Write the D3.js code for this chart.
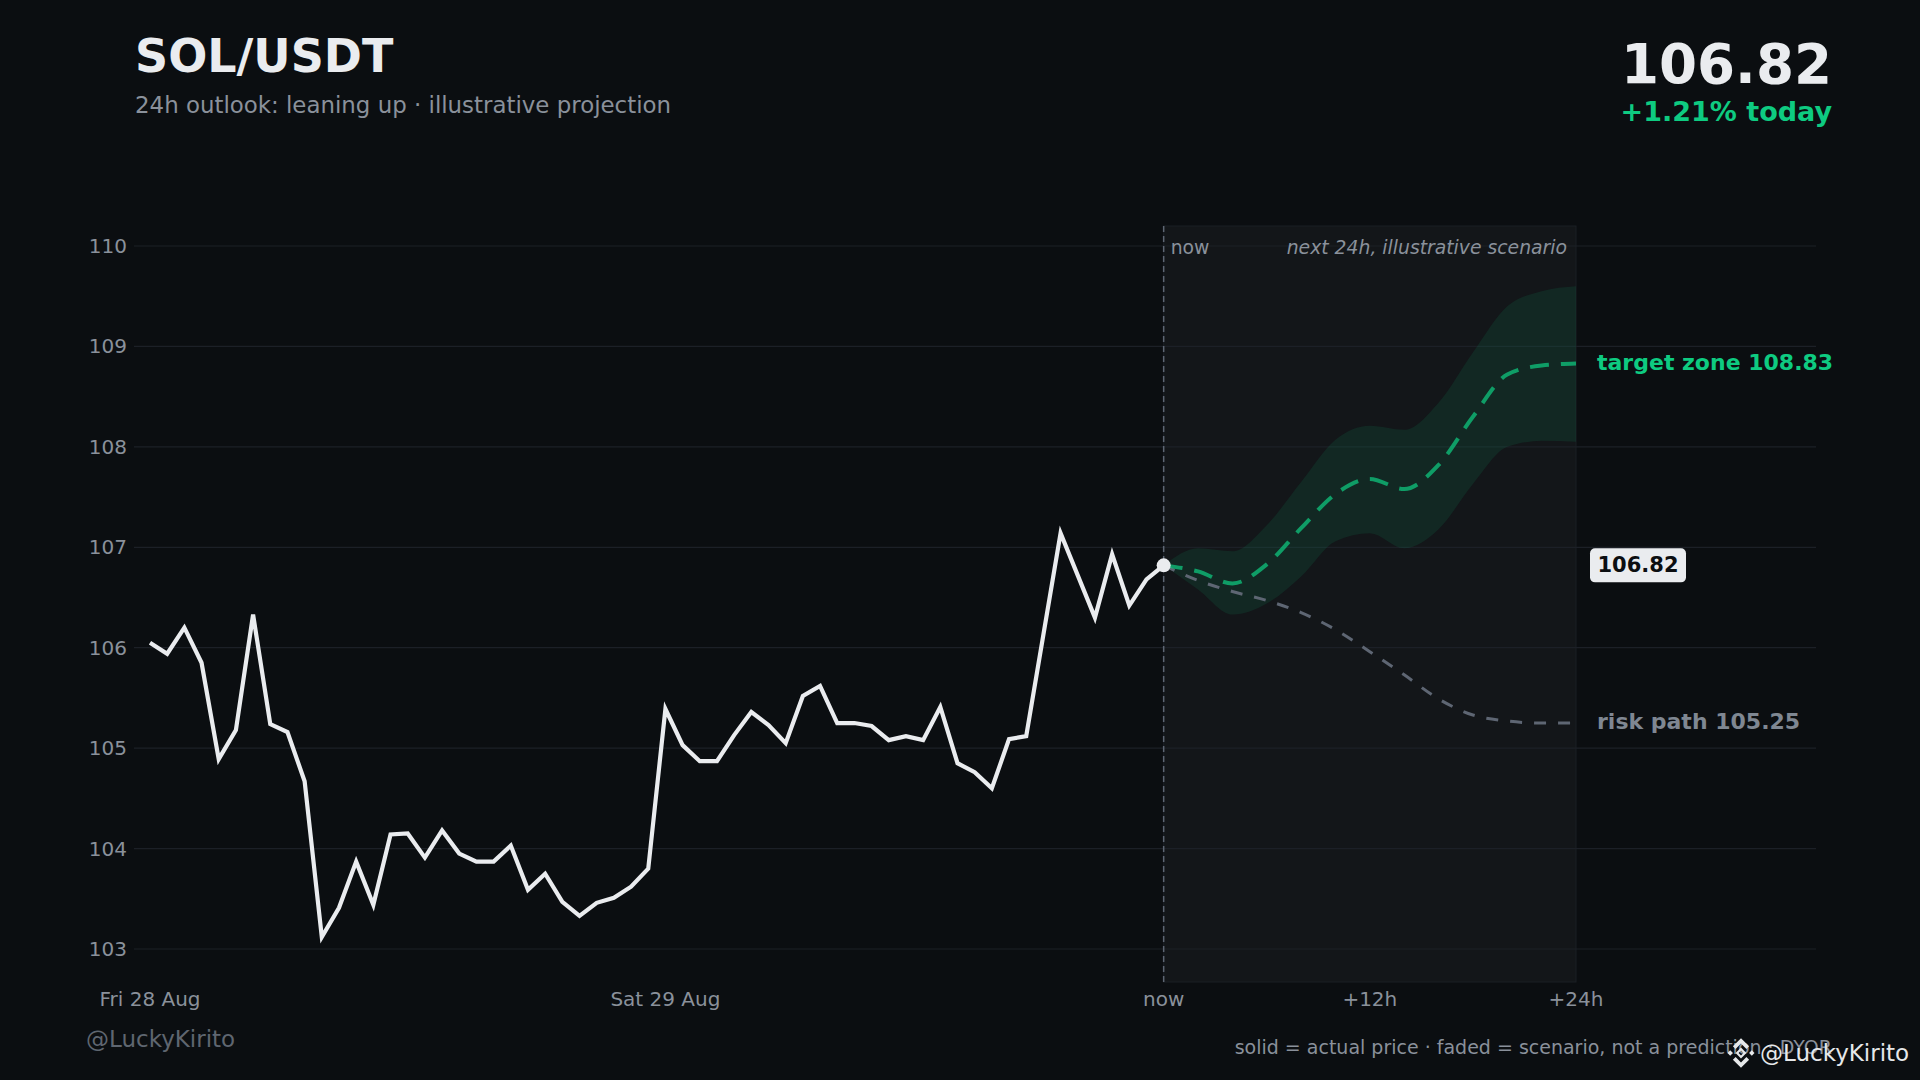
<!DOCTYPE html>
<html lang="en">
<head>
<meta charset="UTF-8">
<title>SOL/USDT outlook</title>
<script src="https://d3js.org/d3.v7.min.js"></script>
<style>
    html, body { margin: 0; padding: 0; background: #0b0e11; }
    svg { display: block; font-family: "DejaVu Sans", sans-serif; }
    .grid line { stroke: #1c2027; stroke-width: 1.2; }
    .tick-label { fill: #8a919b; font-size: 20px; }
</style>
</head>
<body>
<svg id="chart" width="1920" height="1080"></svg>
<script>
    // history: hourly closes, hour offset relative to "now"
    const histHours = d3.range(-59, 1);
    const histPrice = [
        106.05, 105.94, 106.20, 105.85, 104.89, 105.18, 106.33, 105.24, 105.16, 104.67,
        103.12, 103.41, 103.87, 103.44, 104.14, 104.15, 103.91, 104.18, 103.95, 103.87,
        103.87, 104.03, 103.59, 103.75, 103.47, 103.33, 103.46, 103.51, 103.62, 103.80,
        105.39, 105.03, 104.87, 104.87, 105.13, 105.36, 105.23, 105.05, 105.52, 105.62,
        105.25, 105.25, 105.22, 105.08, 105.12, 105.08, 105.41, 104.85, 104.76, 104.60,
        105.09, 105.12, 106.13, 107.14, 106.72, 106.30, 106.93, 106.42, 106.68, 106.82
    ];

    // scenario for next 24h
    const fcHours  = [0, 2, 4, 6, 8, 10, 12, 14, 16, 18, 20, 22, 24];
    const fcCenter = [106.82, 106.76, 106.64, 106.83, 107.19, 107.53, 107.68, 107.58, 107.82, 108.30, 108.72, 108.81, 108.83];
    const fcUpper  = [106.82, 106.99, 106.96, 107.22, 107.65, 108.07, 108.21, 108.17, 108.44, 108.94, 109.40, 109.55, 109.60];
    const fcLower  = [106.82, 106.58, 106.33, 106.44, 106.71, 107.06, 107.14, 106.99, 107.18, 107.63, 108.00, 108.06, 108.05];
    const riskPath = [106.82, 106.67, 106.56, 106.47, 106.35, 106.18, 105.96, 105.73, 105.49, 105.33, 105.27, 105.25, 105.25];

    const yTicks = [103, 104, 105, 106, 107, 108, 109, 110];
    const xTicks = [-59, -29, 0, 12, 24];
    const xTickLabels = ["Fri 28 Aug", "Sat 29 Aug", "now", "+12h", "+24h"];

    const lastPrice = 106.82;
    const target = 108.83;
    const risk = 105.25;

    const svg = d3.select("#chart");
    const W = 1920, H = 1080;
    const plotTop = 226, plotBottom = 982, gridLeft = 134, gridRight = 1816;

    const x = d3.scaleLinear().domain([-59, 24]).range([150, 1576]);
    const y = d3.scaleLinear().domain([103, 110]).range([949, 246]);

    svg.append("rect").attr("width", W).attr("height", H).attr("fill", "#0b0e11");

    // forecast panel
    svg.append("rect")
        .attr("x", x(0)).attr("y", plotTop)
        .attr("width", x(24) - x(0)).attr("height", plotBottom - plotTop)
        .attr("fill", "#ffffff").attr("fill-opacity", 0.035)
        .attr("stroke", "#1b1f25").attr("stroke-width", 1);

    // grid
    const grid = svg.append("g").attr("class", "grid");
    grid.selectAll("line").data(yTicks).enter().append("line")
        .attr("x1", gridLeft).attr("x2", gridRight)
        .attr("y1", d => y(d)).attr("y2", d => y(d));

    // y labels
    svg.append("g").selectAll("text").data(yTicks).enter().append("text")
        .attr("class", "tick-label")
        .attr("x", 127).attr("y", d => y(d))
        .attr("text-anchor", "end").attr("dominant-baseline", "central")
        .text(d => d);

    // x labels
    svg.append("g").selectAll("text").data(xTicks).enter().append("text")
        .attr("class", "tick-label")
        .attr("x", d => x(d)).attr("y", 1006)
        .attr("text-anchor", "middle")
        .text((d, i) => xTickLabels[i]);

    // now line
    svg.append("line")
        .attr("x1", x(0)).attr("x2", x(0))
        .attr("y1", plotTop).attr("y2", plotBottom)
        .attr("stroke", "#5e6673").attr("stroke-width", 1.5)
        .attr("stroke-dasharray", "6,4");

    svg.append("text")
        .attr("x", x(0) + 7).attr("y", 254)
        .attr("fill", "#8a919b").attr("font-size", 18.8)
        .text("now");
    svg.append("text")
        .attr("x", x(24) - 9).attr("y", 254)
        .attr("text-anchor", "end")
        .attr("fill", "#8a919b").attr("font-size", 18.8).attr("font-style", "italic")
        .text("next 24h, illustrative scenario");

    // band
    const band = d3.area()
        .x((d, i) => x(fcHours[i]))
        .y0((d, i) => y(fcLower[i]))
        .y1((d, i) => y(fcUpper[i]))
        .curve(d3.curveMonotoneX);
    svg.append("path")
        .datum(fcHours)
        .attr("d", band)
        .attr("fill", "#0ecb81").attr("fill-opacity", 0.1);

    const fcLine = d3.line()
        .x((d, i) => x(fcHours[i]))
        .y(d => y(d))
        .curve(d3.curveMonotoneX);

    // risk path
    svg.append("path")
        .datum(riskPath)
        .attr("d", fcLine)
        .attr("fill", "none")
        .attr("stroke", "#5e6673").attr("stroke-width", 3)
        .attr("stroke-dasharray", "12,12");

    // target path
    svg.append("path")
        .datum(fcCenter)
        .attr("d", fcLine)
        .attr("fill", "none")
        .attr("stroke", "#0ecb81").attr("stroke-opacity", 0.72)
        .attr("stroke-width", 4)
        .attr("stroke-dasharray", "19,12");

    // history
    const histLine = d3.line()
        .x((d, i) => x(histHours[i]))
        .y(d => y(d));
    svg.append("path")
        .datum(histPrice)
        .attr("d", histLine)
        .attr("fill", "none")
        .attr("stroke", "#eaecef").attr("stroke-width", 4.2)
        .attr("stroke-linejoin", "miter");

    svg.append("circle")
        .attr("cx", x(0)).attr("cy", y(lastPrice)).attr("r", 7)
        .attr("fill", "#eaecef");

    // right side labels
    svg.append("text")
        .attr("x", 1597).attr("y", y(target) - 1.5)
        .attr("dominant-baseline", "central")
        .attr("fill", "#0ecb81").attr("font-size", 22).attr("font-weight", "bold")
        .text("target zone " + target.toFixed(2));

    svg.append("text")
        .attr("x", 1597).attr("y", y(risk) - 1.5)
        .attr("dominant-baseline", "central")
        .attr("fill", "#7f8792").attr("font-size", 22).attr("font-weight", "bold")
        .text("risk path " + risk.toFixed(2));

    svg.append("rect")
        .attr("x", 1590).attr("y", y(lastPrice) - 17)
        .attr("width", 96).attr("height", 34).attr("rx", 5)
        .attr("fill", "#eaecef");
    svg.append("text")
        .attr("x", 1638).attr("y", y(lastPrice))
        .attr("text-anchor", "middle").attr("dominant-baseline", "central")
        .attr("fill", "#0b0e11").attr("font-size", 21).attr("font-weight", "bold")
        .text(lastPrice.toFixed(2));

    // header
    svg.append("text")
        .attr("x", 135).attr("y", 72)
        .attr("fill", "#eaecef").attr("font-size", 46).attr("font-weight", "bold")
        .text("SOL/USDT");
    svg.append("text")
        .attr("x", 135).attr("y", 113)
        .attr("fill", "#8a919b").attr("font-size", 22.9)
        .text("24h outlook: leaning up \u00b7 illustrative projection");

    svg.append("text")
        .attr("x", 1832).attr("y", 83)
        .attr("text-anchor", "end")
        .attr("fill", "#eaecef").attr("font-size", 54.7).attr("font-weight", "bold")
        .text(lastPrice.toFixed(2));
    svg.append("text")
        .attr("x", 1832).attr("y", 121)
        .attr("text-anchor", "end")
        .attr("fill", "#0ecb81").attr("font-size", 27).attr("font-weight", "bold")
        .text("+1.21% today");

    // footer
    svg.append("text")
        .attr("x", 86).attr("y", 1047)
        .attr("fill", "#5f6670").attr("font-size", 23)
        .text("@LuckyKirito");
    svg.append("text")
        .attr("x", 1832).attr("y", 1054)
        .attr("text-anchor", "end")
        .attr("fill", "#8a919b").attr("font-size", 19)
        .text("solid = actual price \u00b7 faded = scenario, not a prediction \u00b7 DYOR");

    // platform watermark
    const wm = svg.append("g").attr("transform", "translate(1741,1053) scale(1.35)")
        .attr("fill", "#e6e8ea");
    wm.append("path").attr("d", "M0,-4 L4,0 L0,4 L-4,0 Z M0,-1.8 L-1.8,0 L0,1.8 L1.8,0 Z")
        .attr("fill-rule", "evenodd");
    wm.append("path").attr("d", "M-8,-2 L-6,0 L-8,2 L-10,0 Z");
    wm.append("path").attr("d", "M8,-2 L10,0 L8,2 L6,0 Z");
    wm.append("path").attr("d", "M-6,-5 L0,-11 L6,-5 L4,-3 L0,-7 L-4,-3 Z");
    wm.append("path").attr("d", "M-6,5 L0,11 L6,5 L4,3 L0,7 L-4,3 Z");
    svg.append("text")
        .attr("x", 1760).attr("y", 1061)
        .attr("fill", "#e6e8ea").attr("font-size", 23)
        .text("@LuckyKirito");
</script>
</body>
</html>
